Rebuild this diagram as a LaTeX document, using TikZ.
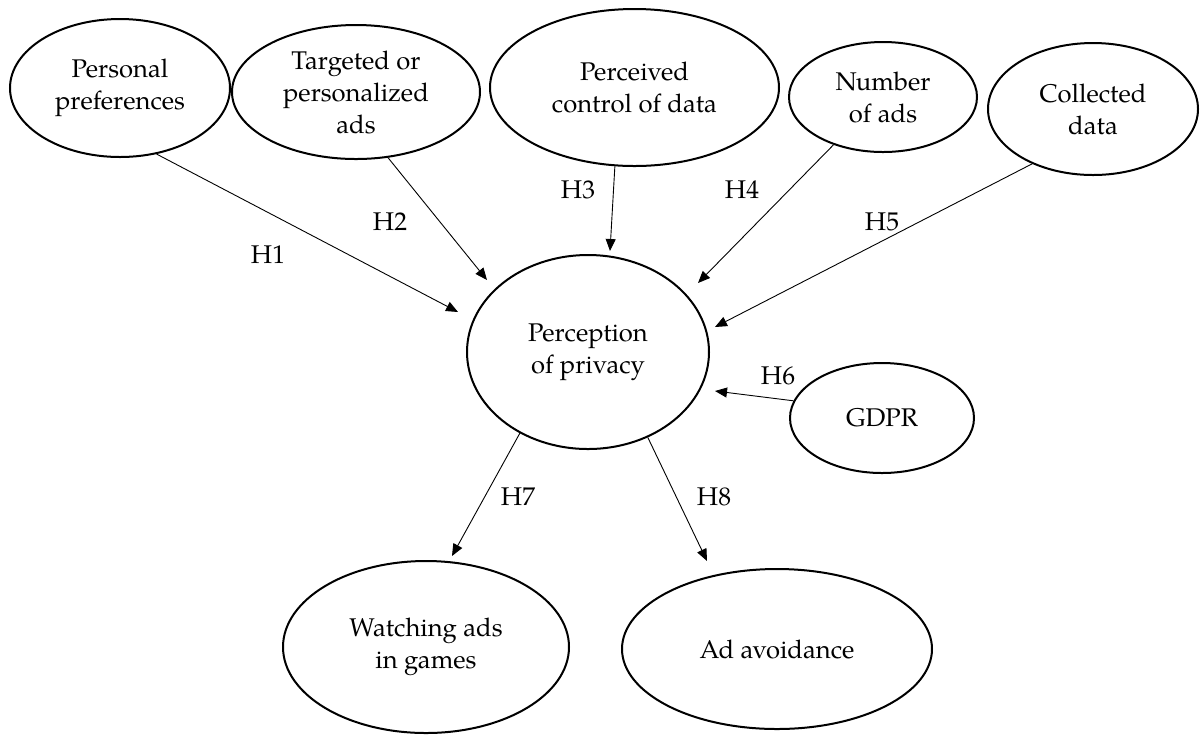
\documentclass[tikz,border=0pt]{standalone}
\usepackage{fontspec}
\setmainfont{texgyrepagella}[Extension=.otf, UprightFont=*-regular]
\usetikzlibrary{shapes.geometric,arrows.meta}
\begin{document}
\begin{tikzpicture}[x=0.5pt,y=-0.5pt,
  var/.style={draw, ellipse, line width=1pt, inner sep=0pt, align=center,
    font=\fontsize{12.8}{16}\selectfont},
  link/.style={line width=0.45pt, -{Triangle[length=6pt,width=5pt]}},
  hlab/.style={font=\fontsize{12.8}{16}\selectfont, inner sep=0pt}]
\useasboundingbox (0,0) rectangle (1200,736);
% variables
\node[var, minimum width=110pt, minimum height=69pt] (pp) at (120,88) {Personal\\preferences};
\node[var, minimum width=124pt, minimum height=67pt] (ta) at (356,92) {Targeted or\\personalized\\ads};
\node[var, minimum width=144.5pt, minimum height=78.5pt] (pc) at (634.5,87.5) {Perceived\\control of data};
\node[var, minimum width=94pt, minimum height=55pt] (na) at (883,97) {Number\\of ads};
\node[var, minimum width=105pt, minimum height=66pt] (cd) at (1093,109) {Collected\\data};
\node[var, minimum width=121pt, minimum height=97pt] (pr) at (588,352) {Perception\\of privacy};
\node[var, minimum width=92pt, minimum height=55pt] (gd) at (882,418) {GDPR};
\node[var, minimum width=143pt, minimum height=86pt] (wa) at (426,647) {Watching ads\\in games};
\node[var, minimum width=155pt, minimum height=80pt] (av) at (777,649) {Ad avoidance};
% arrow tips
\coordinate (t1) at (458,312);
\coordinate (t2) at (487,280);
\coordinate (t3) at (610,251);
\coordinate (t4) at (698,283);
\coordinate (t5) at (715,327);
\coordinate (t6) at (715,391);
\coordinate (t7) at (452,556);
\coordinate (t8) at (707,561);
% connectors
\draw[link] (pp.-61.8) -- (t1);
\draw[link] (ta.-64.5) -- (t2);
\draw[link] (pc.-104) -- (t3);
\draw[link] (na.-136.1) -- (t4);
\draw[link] (cd.-138.3) -- (t5);
\draw[link] (gd.169.7) -- (t6);
\draw[link] (pr.-130.1) -- (t7);
\draw[link] (pr.-55.1) -- (t8);
% labels
\node[hlab] (h1) at (268,255) {H1};
\node[hlab] (h2) at (390,222) {H2};
\node[hlab] (h3) at (578,190) {H3};
\node[hlab] (h4) at (742,190) {H4};
\node[hlab] (h5) at (882,222) {H5};
\node[hlab] (h6) at (778,376) {H6};
\node[hlab] (h7) at (518,497) {H7};
\node[hlab] (h8) at (714,497) {H8};
\end{tikzpicture}
\end{document}
